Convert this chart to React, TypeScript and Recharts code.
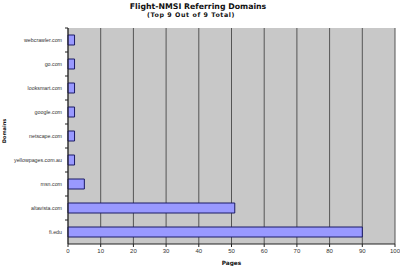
import React from "react";
import { BarChart, Bar, XAxis, YAxis, CartesianGrid } from "recharts";

const domains = [
  "webcrawler.com",
  "go.com",
  "looksmart.com",
  "google.com",
  "netscape.com",
  "yellowpages.com.au",
  "msn.com",
  "altavista.com",
  "fi.edu",
];
const pages = [2, 2, 2, 2, 2, 2, 5, 51, 90];
const pageTicks = [0, 10, 20, 30, 40, 50, 60, 70, 80, 90, 100];

const data = domains.map((d, i) => ({ domain: d, pages: pages[i] }));

const FONT = "'DejaVu Sans', Verdana, sans-serif";
const SMALL = "'Liberation Sans', Arial, sans-serif";
const BAND = 216 / domains.length;

// Category label with a short tick on the axis at the lower band edge.
// Recharts hands over x already shifted left by tickSize + tickMargin (8px).
const DomainTick = (props: any) => {
  const { x, y, payload } = props;
  return (
    <g>
      <text
        x={x + 2}
        y={y}
        dy={2}
        textAnchor="end"
        fontSize={5.3}
        fill="#333"
        fontFamily={SMALL}
      >
        {payload.value}
      </text>
      <line x1={x + 5} x2={x + 8} y1={y - BAND / 2} y2={y - BAND / 2} stroke="#222" />
    </g>
  );
};

export default function App() {
  return (
    <div style={{ position: "absolute", left: 0, top: 0, width: 400, height: 266, background: "#fff" }}>
      <BarChart
        width={400}
        height={266}
        data={data}
        layout="vertical"
        margin={{ top: 28, right: 5, bottom: 0, left: 0 }}
        barSize={10}
        style={{ position: "absolute", left: 0, top: 0 }}
      >
        <CartesianGrid
          horizontal={false}
          vertical={true}
          fill="#c8c8c8"
          stroke="#555"
          strokeOpacity={1}
        />
        <XAxis
          type="number"
          domain={[0, 100]}
          ticks={pageTicks}
          interval={0}
          height={22}
          tick={{ fontSize: 6, fill: "#333", fontFamily: SMALL }}
          tickLine={{ stroke: "#222" }}
          tickSize={3}
          axisLine={{ stroke: "#222" }}
          label={{
            value: "Pages",
            position: "insideBottom",
            offset: 1,
            fontSize: 5.8,
            fontWeight: "bold",
            fill: "#111",
            fontFamily: FONT,
          }}
        />
        <YAxis
          type="category"
          dataKey="domain"
          width={68}
          interval={0}
          tick={<DomainTick />}
          tickLine={false}
          axisLine={{ stroke: "#222" }}
        />
        <Bar dataKey="pages" fill="#9999ff" stroke="#1a1a66" strokeWidth={1} isAnimationActive={false} />
      </BarChart>
      <svg width={400} height={266} style={{ position: "absolute", left: 0, top: 0, pointerEvents: "none" }}>
        <text x={198} y={9} textAnchor="middle" fontSize={7.8} fontWeight="bold" fontFamily={FONT} fill="#111">
          Flight-NMSI Referring Domains
        </text>
        <text x={191} y={17} textAnchor="middle" fontSize={6.3} fontWeight="bold" fontFamily={FONT} fill="#111" letterSpacing={0.6}>
          (Top 9 Out of 9 Total)
        </text>
        <text
          x={4}
          y={131}
          transform="rotate(-90 4 131)"
          textAnchor="middle"
          dominantBaseline="central"
          fontSize={5}
          fontWeight="bold"
          fontFamily={FONT}
          fill="#111"
        >
          Domains
        </text>
      </svg>
    </div>
  );
}
